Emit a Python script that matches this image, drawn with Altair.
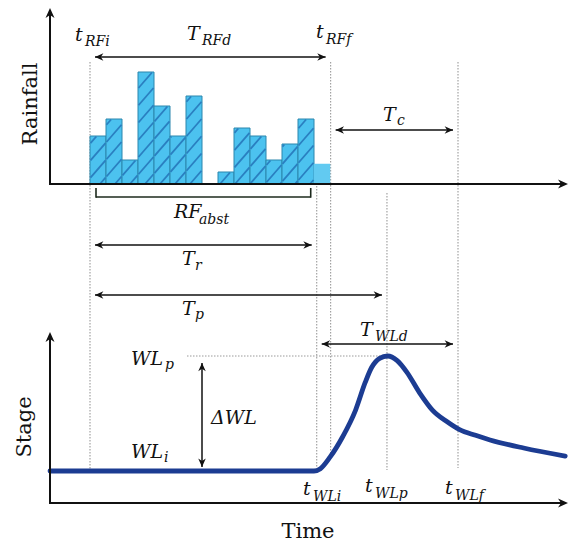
import altair as alt
import pandas as pd

# ---------------- data ----------------
rain_step = list(range(15))
rainfall = [12, 16.25, 6, 28, 19.5, 12, 22, 0, 3, 14, 12, 6, 10, 16.25, 5]
rain_hatched = [1] * 14 + [0]

stage_time = [-2.5, 14.0, 14.4, 15.0, 15.8, 16.6, 17.2, 17.6, 18.1, 18.6,
              19.2, 19.8, 20.6, 21.4, 22.3, 23.1, 24.1, 25.0, 27.1, 29.7]
stage_level = [0, 0, 0.2, 1.2, 3.0, 5.3, 7.7, 9.0, 9.8, 10.0,
               9.6, 8.6, 6.8, 5.3, 4.3, 3.6, 3.1, 2.7, 2.0, 1.3]

key_names = ["t_RFi", "t_WLi", "t_RFf", "t_WLp", "t_WLf"]
key_times = [0.0, 14.17, 15.04, 18.56, 23.0]
K = dict(zip(key_names, key_times))
WL_i, WL_p = 0.0, 10.0

# ---------------- layout ----------------
W, H = 569, 544
PX0, PX_PER_T = 90, 16
def t_of(px):
    return (px - PX0) / PX_PER_T
RAIN_BASE, RAIN_PX = 184, 4
STAGE_BASE, STAGE_PX = 471, 11.5

x_scale = alt.Scale(domain=[t_of(0), t_of(W)], nice=False, zero=False)
rain_y = alt.Scale(domain=[(RAIN_BASE - H) / RAIN_PX, RAIN_BASE / RAIN_PX], nice=False, zero=False)
stage_y = alt.Scale(domain=[(STAGE_BASE - H) / STAGE_PX, STAGE_BASE / STAGE_PX], nice=False, zero=False)
lay_y = alt.Scale(domain=[H, 0], nice=False, zero=False)

FONT = "DejaVu Serif"
INK = "#111111"
DOT = "#9a9a9a"

def X(f):
    return alt.X(f, type="quantitative", scale=x_scale, axis=None)

# ---------------- rainfall bars ----------------
bars = pd.DataFrame({"t0": rain_step, "v": rainfall, "h": rain_hatched})
bars = bars[bars.v > 0].copy()
bars["t1"] = bars.t0 + 1
bars["zero"] = 0.0

bar_h = alt.Chart(bars[bars.h == 1]).mark_rect(
    fill="#4cc2ef", stroke="#2a86ad", strokeWidth=1
).encode(x=X("t0"), x2="t1", y=alt.Y("v:Q", scale=rain_y, axis=None), y2="zero")
bar_p = alt.Chart(bars[bars.h == 0]).mark_rect(
    fill="#62caf1", stroke="#62caf1", strokeWidth=0.5
).encode(x=X("t0"), x2="t1", y=alt.Y("v:Q", scale=rain_y, axis=None), y2="zero")

# hatch segments derived from bars
M, SP = 1.15, 15.0
hrows = []
for i, (v, hf) in enumerate(zip(rainfall, rain_hatched)):
    if not hf or v <= 0:
        continue
    x0 = PX0 + PX_PER_T * rain_step[i]
    x1 = x0 + PX_PER_T
    hh = v * RAIN_PX
    for k in range(-30, 60):
        a = PX0 - 200 + k * SP
        xs = max(x0 + 0.5, a)
        xe = min(x1 - 0.5, a + (hh - 0.5) / M)
        if xe - xs > 0.8:
            hrows.append(dict(ta=t_of(xs), ra=M * (xs - a) / RAIN_PX,
                              tb=t_of(xe), rb=M * (xe - a) / RAIN_PX))
hatch = alt.Chart(pd.DataFrame(hrows)).mark_rule(
    color="#2a7fc0", strokeWidth=1.8
).encode(x=X("ta"), x2="tb", y=alt.Y("ra:Q", scale=rain_y, axis=None), y2="rb")

rain_layer = alt.layer(bar_h, bar_p, hatch)

# ---------------- stage ----------------
stage_df = pd.DataFrame({"t": stage_time, "s": stage_level})
stage_line = alt.Chart(stage_df).mark_line(
    color="#1c3c92", strokeWidth=4.8, interpolate="monotone", strokeCap="round"
).encode(x=X("t"), y=alt.Y("s:Q", scale=stage_y, axis=None))

wlp_df = pd.DataFrame({"ta": [t_of(187)], "tb": [K["t_WLp"]], "s": [WL_p]})
wlp_rule = alt.Chart(wlp_df).mark_rule(color=DOT, strokeWidth=1, strokeDash=[1.5, 1.5]).encode(
    x=X("ta"), x2="tb", y=alt.Y("s:Q", scale=stage_y, axis=None))

DW_X = t_of(202)
dwl_df = pd.DataFrame({"t": [DW_X], "sa": [WL_i + 0.35], "sb": [WL_p - 0.6]})
dwl_rule = alt.Chart(dwl_df).mark_rule(color=INK, strokeWidth=1.5).encode(
    x=X("t"), y=alt.Y("sa:Q", scale=stage_y, axis=None), y2="sb")

UP = "M0,0 L-0.9,2 L0,1.4 L0.9,2 Z"
DOWN = "M0,0 L-0.9,-2 L0,-1.4 L0.9,-2 Z"
LEFT = "M0,0 L2,-0.9 L1.4,0 L2,0.9 Z"
RIGHT = "M0,0 L-2,-0.9 L-1.4,0 L-2,0.9 Z"

dwl_heads = alt.Chart(pd.DataFrame({
    "t": [DW_X, DW_X], "s": [WL_p - 0.6, WL_i + 0.35], "shape": [UP, DOWN]
})).mark_point(filled=True, color=INK, opacity=1, size=70).encode(
    x=X("t"), y=alt.Y("s:Q", scale=stage_y, axis=None),
    shape=alt.Shape("shape:N", scale=None))

stage_layer = alt.layer(wlp_rule, dwl_rule, dwl_heads, stage_line)

# ---------------- background dotted verticals ----------------
dots = pd.DataFrame({
    "t": [K["t_RFi"], K["t_WLi"], K["t_RFf"], K["t_WLp"], K["t_WLf"]],
    "ya": [62, 186, 62, 193, 62],
    "yb": [472, 470, 456, 470, 468],
})
dot_layer = alt.Chart(dots).mark_rule(color=DOT, strokeWidth=1.1, strokeDash=[1.5, 1.5]).encode(
    x=X("t"), y=alt.Y("ya:Q", scale=lay_y, axis=None), y2="yb")

# ---------------- axes ----------------
AX_T = t_of(50)
axes = pd.DataFrame({
    "ta": [AX_T, AX_T, AX_T, AX_T],
    "tb": [AX_T, t_of(562), AX_T, t_of(562)],
    "ya": [185, 184, 504, 503],
    "yb": [14, 184, 338, 503],
})
axis_rules = alt.Chart(axes).mark_rule(color=INK, strokeWidth=2).encode(
    x=X("ta"), x2="tb", y=alt.Y("ya:Q", scale=lay_y, axis=None), y2="yb")
axis_heads = alt.Chart(pd.DataFrame({
    "t": [AX_T, t_of(568), AX_T, t_of(568)],
    "y": [8, 184, 332, 503],
    "shape": [UP, RIGHT, UP, RIGHT],
})).mark_point(filled=True, color=INK, opacity=1, size=100).encode(
    x=X("t"), y=alt.Y("y:Q", scale=lay_y, axis=None), shape=alt.Shape("shape:N", scale=None))

# ---------------- interval arrows ----------------
INS = 5 / PX_PER_T
iv = pd.DataFrame({
    "name": ["T_RFd", "T_c", "T_r", "T_p", "T_WLd"],
    "ta": [K["t_RFi"], K["t_RFf"], K["t_RFi"], K["t_RFi"], K["t_WLi"]],
    "tb": [K["t_RFf"], K["t_WLf"], K["t_WLi"], K["t_WLp"], K["t_WLf"]],
    "y": [57, 130, 245, 295, 344],
})
iv["ta"] = iv.ta + INS
iv["tb"] = iv.tb - INS
iv_rules = alt.Chart(iv).mark_rule(color=INK, strokeWidth=1.5).encode(
    x=X("ta"), x2="tb", y=alt.Y("y:Q", scale=lay_y, axis=None))
heads = pd.concat([
    pd.DataFrame({"t": iv.ta, "y": iv.y, "shape": LEFT}),
    pd.DataFrame({"t": iv.tb, "y": iv.y, "shape": RIGHT}),
])
iv_heads = alt.Chart(heads).mark_point(filled=True, color=INK, opacity=1, size=70).encode(
    x=X("t"), y=alt.Y("y:Q", scale=lay_y, axis=None), shape=alt.Shape("shape:N", scale=None))

# RF_abst bracket
BA, BB = K["t_RFi"] + 6 / PX_PER_T, K["t_WLi"] - 6 / PX_PER_T
bracket = pd.DataFrame({
    "ta": [BA, BA, BB], "tb": [BB, BA, BB],
    "ya": [197, 188, 188], "yb": [197, 197.7, 197.7],
})
bracket_rules = alt.Chart(bracket).mark_rule(color="#1d2a1d", strokeWidth=1.6).encode(
    x=X("ta"), x2="tb", y=alt.Y("ya:Q", scale=lay_y, axis=None), y2="yb")

# ---------------- labels ----------------
main_lbl = pd.DataFrame([
    ("t", 75, 41), ("T", 187, 40), ("t", 316, 38), ("T", 383, 121),
    ("RF", 174, 218), ("T", 182, 265), ("T", 182, 315), ("T", 360, 336),
    ("WL", 131, 365), ("ΔWL", 211, 424), ("WL", 131, 458),
    ("t", 303, 495), ("t", 365, 492), ("t", 445, 494),
], columns=["label", "px", "y"])
sub_lbl = pd.DataFrame([
    ("RFi", 85, 46), ("RFd", 202, 45), ("RFf", 326, 44), ("c", 397, 125),
    ("abst", 199, 224), ("r", 195, 270), ("p", 195, 319), ("WLd", 375, 341),
    ("p", 165, 369), ("i", 164, 462),
    ("WLi", 313, 501), ("WLp", 375, 498), ("WLf", 455, 500),
], columns=["label", "px", "y"])
for d in (main_lbl, sub_lbl):
    d["t"] = d.px.map(t_of)

txt_main = alt.Chart(main_lbl).mark_text(
    font=FONT, fontStyle="italic", fontSize=19, align="left", baseline="alphabetic", color=INK
).encode(x=X("t"), y=alt.Y("y:Q", scale=lay_y, axis=None), text="label:N")
txt_sub = alt.Chart(sub_lbl).mark_text(
    font=FONT, fontStyle="italic", fontSize=14, align="left", baseline="alphabetic", color=INK
).encode(x=X("t"), y=alt.Y("y:Q", scale=lay_y, axis=None), text="label:N")

titles_v = pd.DataFrame({"label": ["Rainfall", "Stage"], "t": [t_of(31), t_of(25)], "y": [104, 427]})
txt_vt = alt.Chart(titles_v).mark_text(
    font=FONT, fontSize=21, angle=270, align="center", baseline="middle", color=INK
).encode(x=X("t"), y=alt.Y("y:Q", scale=lay_y, axis=None), text="label:N")
titles_h = pd.DataFrame({"label": ["Time"], "t": [t_of(308)], "y": [532]})
txt_ht = alt.Chart(titles_h).mark_text(
    font=FONT, fontSize=21, align="center", baseline="middle", color=INK
).encode(x=X("t"), y=alt.Y("y:Q", scale=lay_y, axis=None), text="label:N")

annot_layer = alt.layer(axis_rules, axis_heads, iv_rules, iv_heads, bracket_rules,
                        txt_main, txt_sub, txt_vt, txt_ht)

chart = alt.layer(dot_layer, rain_layer, stage_layer, annot_layer).resolve_scale(
    y="independent"
).properties(
    width=W, height=H, padding=0, autosize=alt.AutoSizeParams(type="none"), background="white"
).configure_view(stroke=None)

chart.save("out.html", embed_options={"renderer": "svg", "actions": False})
